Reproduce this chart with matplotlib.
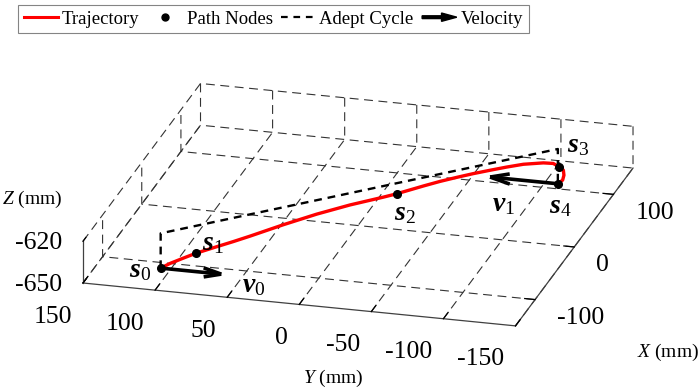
import numpy as np
import matplotlib
matplotlib.use("Agg")
import matplotlib.pyplot as plt
from matplotlib.lines import Line2D
from matplotlib.patches import FancyArrow
from matplotlib.legend_handler import HandlerPatch
from mpl_toolkits.mplot3d import proj3d

# path nodes s0..s4 (mm)
node_x = [-110.0, -88.5, 21.0, 109.8, 109.0]
node_y = [107.0, 88.5, -21.0, -109.8, -109.0]
node_z = [-650.0, -645.6, -633.2, -638.1, -650.0]
node_lbl = [r"$\mathbf{s}_0$", r"$\mathbf{s}_1$", r"$\mathbf{s}_2$",
            r"$\mathbf{s}_3$", r"$\mathbf{s}_4$"]

# red trajectory
traj_x = [-110.0, -102.5, -95.3, -88.5, -77.1, -68.0, -58.9, -40.7, -22.5, -4.4,
          13.8, 21.0, 35.6, 44.7, 53.8, 62.9, 72.0, 81.1, 90.2, 101.1, 106.5, 109.8,
          108.0, 108.0, 108.0, 109.0]
traj_y = [107.0, 102.5, 95.3, 88.5, 77.1, 68.0, 58.9, 40.7, 22.5, 4.4,
          -13.8, -21.0, -35.6, -44.7, -53.8, -62.9, -72.0, -81.1, -90.2, -101.1, -106.5, -109.8,
          -113.1, -113.5, -112.6, -109.0]
traj_z = [-650.0, -649.0, -647.2, -645.6, -644.0, -642.8, -641.4, -638.2, -635.6, -634.0,
          -633.4, -633.0, -631.4, -630.6, -630.2, -630.0, -630.1, -630.3, -630.8, -632.8, -634.7, -638.1,
          -639.4, -643.0, -646.6, -650.0]

# Adept cycle: up 25 mm, across, down 25 mm
adept_x = [-110.0, -110.0, 109.0, 109.0]
adept_y = [107.0, 107.0, -109.0, -109.0]
adept_z = [-650.0, -625.0, -625.0, -650.0]

# velocities at s0 and s4
vel_x = [-110.0, 109.0]
vel_y = [107.0, -109.0]
vel_z = [-650.0, -650.0]
vel_u = [0.0, 0.0]
vel_v = [-42.0, 47.0]
vel_w = [0.0, 0.0]
vel_lbl = [r"$\mathbf{v}_0$", r"$\mathbf{v}_1$"]

x_ticks = [-100, 0, 100]
y_ticks = [-150, -100, -50, 0, 50, 100, 150]
z_ticks = [-650, -620]

plt.rcParams.update({
    "font.family": "Liberation Serif",
    "mathtext.fontset": "custom",
    "mathtext.rm": "Liberation Serif",
    "mathtext.it": "Liberation Serif:italic",
    "mathtext.bf": "Liberation Serif:bold:italic",
})

W, H = 700, 391
fig = plt.figure(figsize=(W / 100, H / 100), dpi=100)
ax = fig.add_axes([0.0, 0.0, 1.0, 1.0], projection="3d")
ax.set_proj_type("ortho")
ax.view_init(elev=21.4, azim=-164.8)
ax.set_xlim(-150, 150); ax.set_ylim(-150, 150); ax.set_zlim(-650, -620)
ax.set_box_aspect((300, 300, 30))
ax.set_xticks(x_ticks); ax.set_yticks(y_ticks); ax.set_zticks(z_ticks)
ax.computed_zorder = False

out_f = {"x": 0.3, "y": 0.5, "z": 0.3}
for name, a in (("x", ax.xaxis), ("y", ax.yaxis), ("z", ax.zaxis)):
    for lab in a.get_ticklabels():
        lab.set_visible(False)
    a.label.set_visible(False)
    a.get_offset_text().set_visible(False)
    a.set_pane_color((1, 1, 1, 0))
    a.pane.set_edgecolor("#404040")
    a.pane.set_linewidth(0.9)
    a.line.set_color("#404040")
    a.line.set_linewidth(0.9)
    a._axinfo["grid"].update(color="#333333", linewidth=0.8, linestyle=(0, (8, 5)))
    a._axinfo["tick"].update(inward_factor=0.0, outward_factor=out_f[name])
    a._axinfo["tick"]["linewidth"] = {True: 0.9, False: 0.5}

ax.plot(adept_x, adept_y, adept_z, color="k", lw=1.7, ls=(0, (3.3, 2.5)), zorder=2)
ax.quiver(vel_x, vel_y, vel_z, vel_u, vel_v, vel_w, color="k", linewidth=2.6,
          arrow_length_ratio=0.3, zorder=3)
ax.plot(traj_x, traj_y, traj_z, color="red", lw=2.4, zorder=4)
ax.plot(node_x, node_y, node_z, "o", color="k", ms=5.5, zorder=5)

fig.text(2 / W, 1 - 204 / H, r"$Z$ (mm)", fontsize=14, ha="left", va="baseline")
fig.text(303 / W, 1 - 383 / H, r"$Y$ (mm)", fontsize=14, ha="left", va="baseline")
fig.text(637 / W, 1 - 357 / H, r"$X$ (mm)", fontsize=14, ha="left", va="baseline")


def arrow_handle(legend, orig_handle, xdescent, ydescent, width, height, fontsize):
    return FancyArrow(-xdescent, height / 2 - ydescent, width, 0, width=2.0,
                      head_width=6, head_length=11, length_includes_head=True, color="k")


handles = [Line2D([], [], color="red", lw=2.2),
           Line2D([], [], color="k", marker="o", ms=5, ls="none"),
           Line2D([], [], color="k", lw=1.6, ls=(0, (3, 2.6))),
           FancyArrow(0, 0, 1, 0, color="k")]
labels = ["Trajectory", "Path Nodes", "Adept Cycle", "Velocity"]
leg = fig.legend(handles, labels, loc="upper left", bbox_to_anchor=(18 / W, 1 - 5 / H),
                 ncol=4, fontsize=13.5, frameon=True, fancybox=False, edgecolor="#666666",
                 handlelength=1.85, handletextpad=0.2, columnspacing=0.45, borderpad=0.3,
                 borderaxespad=0, handler_map={FancyArrow: HandlerPatch(patch_func=arrow_handle)})
leg.get_frame().set_linewidth(0.8)

# place the box so that its floor corners land where they are in the reference
t1 = np.array([83.0, H - 283.0])
t2 = np.array([633.0, H - 168.0])
for _ in range(3):
    fig.canvas.draw()
    px, py, _z = proj3d.proj_transform(np.array([-150.0, 150.0]), np.array([150.0, -150.0]),
                                       np.array([-650.0, -650.0]), ax.get_proj())
    p = ax.transData.transform(np.column_stack([px, py]))
    s = np.linalg.norm(t2 - t1) / np.linalg.norm(p[1] - p[0])
    pos = ax.get_position(original=True)
    x0 = t1[0] + s * (pos.x0 * W - p[0][0])
    y0 = t1[1] + s * (pos.y0 * H - p[0][1])
    ax.set_position([x0 / W, y0 / H, s * pos.width, s * pos.height])

M = ax.get_proj()


def label_at(x, y, z, s, dx, dy, **kw):
    # project the 3D anchor once, then place a plain 2D annotation with a pixel offset
    px, py, _z = proj3d.proj_transform(np.array([x], float), np.array([y], float),
                                       np.array([z], float), M)
    ax.annotate(s, (px[0], py[0]), xytext=(dx, dy), textcoords="offset pixels",
                annotation_clip=False, **kw)


node_off = [(-9, -9, "right"), (6, 3, "left"), (-3, -25.5, "left"),
            (8, 14.7, "left"), (-9, -29.7, "left")]
for x, y, z, s, (dx, dy, ha) in zip(node_x, node_y, node_z, node_lbl, node_off):
    label_at(x, y, z, s, dx, dy, ha=ha, va="baseline", fontsize=20, zorder=6)
vel_off = [(81, -24), (-66, -27)]
for x, y, z, s, (dx, dy) in zip(vel_x, vel_y, vel_z, vel_lbl, vel_off):
    label_at(x, y, z, s, dx, dy, ha="left", va="baseline", fontsize=20, zorder=6)

# tick labels (MATLAB-like placement)
for v in x_ticks:
    label_at(v, -150, -650, f"{v}", 22, -18.5, ha="left", va="center", fontsize=18.5)
for v in y_ticks:
    label_at(-150, v, -650, f"{v}", -11, -33.5, ha="right", va="center", fontsize=18.5)
for v in z_ticks:
    label_at(-150, 150, v, f"{v}", -21, -2, ha="right", va="center", fontsize=18.5)

fig.savefig("out.png", dpi=100)
